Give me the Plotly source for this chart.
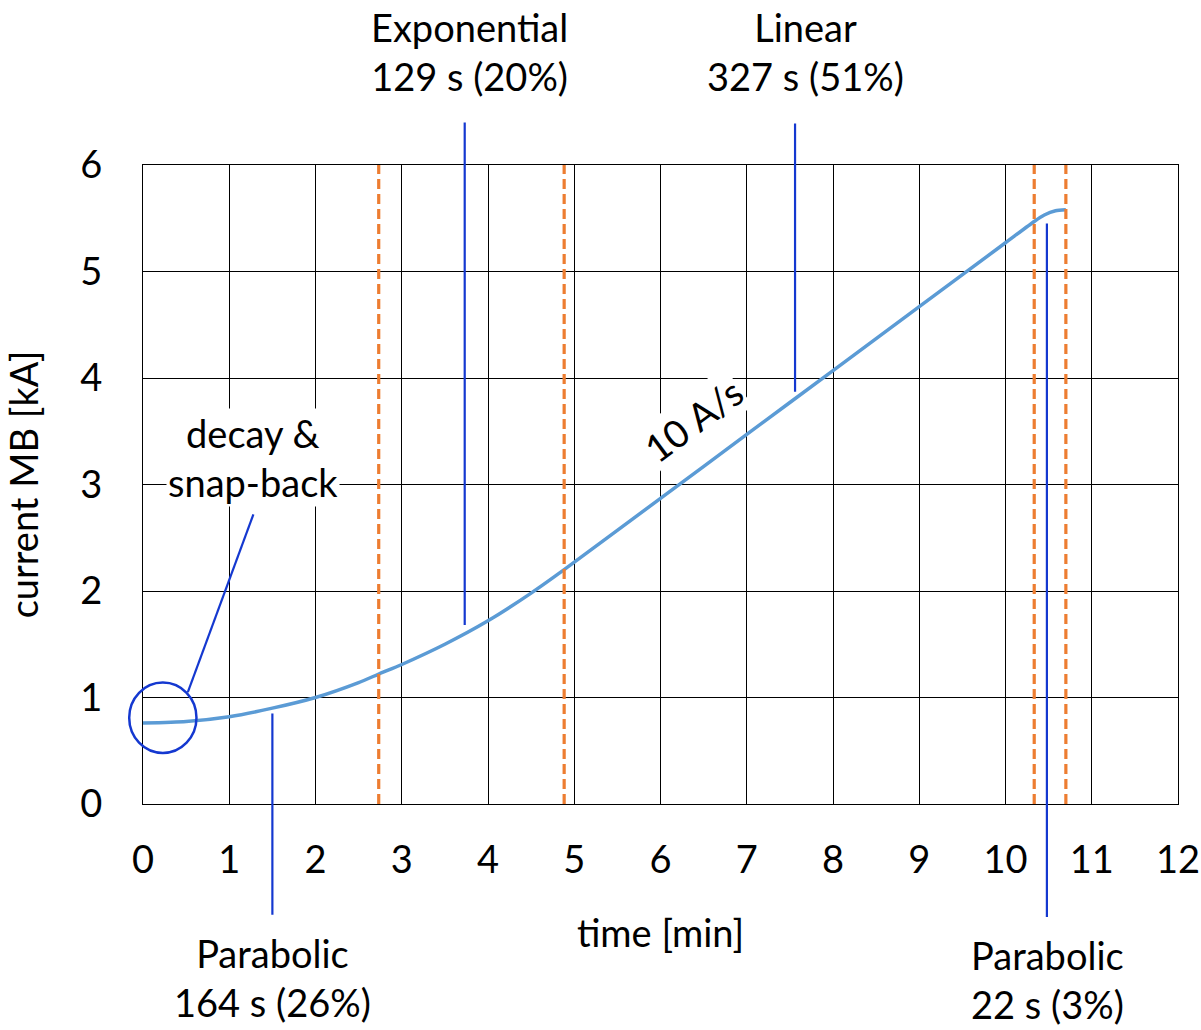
import plotly.graph_objects as go

# ---- data ----
time_min = [0, 0.5, 1, 1.5, 2, 2.5, 2.733, 3, 3.5, 4, 4.5, 4.883, 6, 7, 8, 9, 10, 10.333, 10.45, 10.58, 10.7]
current_kA = [0.76, 0.775, 0.82, 0.90, 1.00, 1.14, 1.22, 1.31, 1.50, 1.72, 1.98, 2.20,
              2.87, 3.47, 4.07, 4.67, 5.27, 5.47, 5.53, 5.57, 5.58]
phase_bounds_min = [2.733, 4.883, 10.333, 10.7]

x_ticks = list(range(0, 13))
y_ticks = list(range(0, 7))
X_RANGE = [0, 12]
Y_RANGE = [0, 6]

# callout pointer lines: (x, y_from, y_to) in data units
callout_lines = [
    (3.73, 6.40, 1.68),    # Exponential
    (7.56, 6.39, 3.87),    # Linear
    (1.50, 0.85, -1.04),   # Parabolic (start)
    (10.48, 5.45, -1.06),  # Parabolic (end)
]
# decay & snap-back pointer and circle
decay_pointer = [(1.28, 2.72), (0.52, 1.05)]
decay_circle = (0.23, 0.81, 0.39, 0.33)  # centre x, centre y, radius x (min), radius y (kA)

FONT = "Lato"
FS = 38
BLUE = "#1438D0"
ORANGE = "#ED7D31"
CURVE = "#5B9BD5"


def px(x):
    return (x - X_RANGE[0]) / (X_RANGE[1] - X_RANGE[0])


def py(y):
    return (y - Y_RANGE[0]) / (Y_RANGE[1] - Y_RANGE[0])


fig = go.Figure()

fig.add_trace(go.Scatter(
    x=time_min, y=current_kA, mode="lines",
    line=dict(color=CURVE, width=3.5, shape="spline", smoothing=0.6),
    showlegend=False, hoverinfo="skip"))

shapes = []
for xb in phase_bounds_min:
    shapes.append(dict(type="line", xref="x", yref="y", x0=xb, x1=xb, y0=Y_RANGE[0], y1=Y_RANGE[1],
                       line=dict(color=ORANGE, width=3.2, dash="10px,5px"), layer="above"))
for (xl, y0, y1) in callout_lines:
    shapes.append(dict(type="line", xref="paper", yref="paper", x0=px(xl), x1=px(xl),
                       y0=py(y0), y1=py(y1), line=dict(color=BLUE, width=2.2), layer="above"))
shapes.append(dict(type="line", xref="paper", yref="paper",
                   x0=px(decay_pointer[0][0]), y0=py(decay_pointer[0][1]),
                   x1=px(decay_pointer[1][0]), y1=py(decay_pointer[1][1]),
                   line=dict(color=BLUE, width=2.2), layer="above"))
cx, cy, rx, ry = decay_circle
shapes.append(dict(type="circle", xref="paper", yref="paper",
                   x0=px(cx - rx), x1=px(cx + rx), y0=py(cy - ry), y1=py(cy + ry),
                   line=dict(color=BLUE, width=2.5), layer="above"))

annotations = [
    dict(text="Exponential<br>129 s (20%)", x=0.315, y=1.178),
    dict(text="Linear<br>327 s (51%)", x=0.640, y=1.178),
    dict(text="Parabolic<br>164 s (26%)", x=0.1256, y=-0.271),
    dict(text="Parabolic<br>22 s (3%)", x=0.874, y=-0.274),
    dict(text="decay &<br>snap-back", x=0.106, y=0.543, bgcolor="white"),
    dict(text="10 A/s", x=0.531, y=0.601, textangle=-36.5, bgcolor="white"),
]
for a in annotations:
    a.update(xref="paper", yref="paper", showarrow=False, xanchor="center", yanchor="middle",
             font=dict(family=FONT, size=FS, color="black"))

fig.update_layout(
    width=1201, height=1030,
    margin=dict(l=143, r=23, t=165, b=226),
    paper_bgcolor="white", plot_bgcolor="white",
    font=dict(family=FONT, size=FS, color="black"),
    shapes=shapes, annotations=annotations,
    showlegend=False,
)
fig.update_xaxes(range=X_RANGE, tickvals=x_ticks, showgrid=True, gridcolor="black", gridwidth=1,
                 showline=True, linecolor="black", linewidth=1, mirror=True, zeroline=False,
                 ticks="", ticklabelstandoff=22, automargin=False,
                 tickfont=dict(family=FONT, size=FS),
                 title=dict(text="time [min]", font=dict(family=FONT, size=FS), standoff=40))
fig.update_yaxes(range=Y_RANGE, tickvals=y_ticks, showgrid=True, gridcolor="black", gridwidth=1,
                 showline=True, linecolor="black", linewidth=1, mirror=True, zeroline=False,
                 ticks="", ticklabelstandoff=32, automargin=False,
                 tickfont=dict(family=FONT, size=FS),
                 title=dict(text="current MB [kA]", font=dict(family=FONT, size=FS), standoff=36))

fig.write_html("out.html")
